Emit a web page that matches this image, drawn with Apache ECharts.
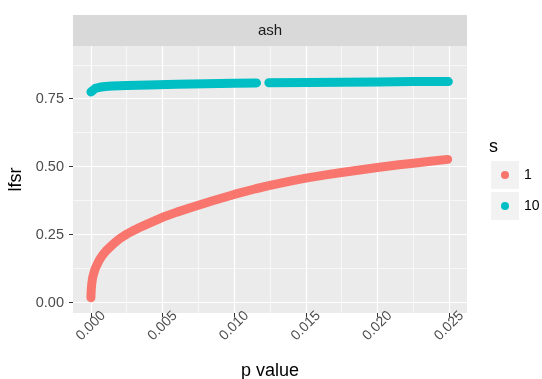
<!DOCTYPE html>
<html>
<head>
<meta charset="utf-8">
<script src="https://cdn.jsdelivr.net/npm/echarts@6/dist/echarts.min.js"></script>
<style>
  html, body { margin: 0; padding: 0; background: #fff; }
  #chart { width: 542px; height: 379px; }
</style>
</head>
<body>
<div id="chart"></div>
<script>
// s = 1
const pS1 = [0, 0.00002, 0.00006, 0.00012, 0.0002, 0.0003, 0.00045, 0.0006, 0.0008, 0.00105, 0.0013, 0.0016, 0.002, 0.0025, 0.003, 0.0035, 0.004, 0.005, 0.006, 0.007, 0.0085, 0.01, 0.0115, 0.0125, 0.014, 0.015, 0.0165, 0.0175, 0.019, 0.02, 0.0215, 0.0225, 0.0237, 0.0249];
const lfsrS1 = [0.018, 0.045, 0.07, 0.092, 0.108, 0.125, 0.142, 0.158, 0.174, 0.19, 0.203, 0.218, 0.235, 0.252, 0.266, 0.279, 0.291, 0.314, 0.333, 0.350, 0.375, 0.398, 0.419, 0.431, 0.448, 0.458, 0.471, 0.479, 0.490, 0.497, 0.507, 0.513, 0.520, 0.527];
// s = 10 (null = gap in the points)
const pS10 = [0, 0.0001, 0.0003, 0.0006, 0.001, 0.0015, 0.0025, 0.004, 0.006, 0.008, 0.01, 0.01156, null, 0.01242, 0.015, 0.0175, 0.02, 0.0225, 0.02495];
const lfsrS10 = [0.775, 0.782, 0.788, 0.792, 0.795, 0.797, 0.799, 0.801, 0.803, 0.805, 0.807, 0.808, null, 0.809, 0.810, 0.811, 0.812, 0.813, 0.813];

const xBreaks = [0, 0.005, 0.01, 0.015, 0.02, 0.025];
const xMinor = [0.0025, 0.0075, 0.0125, 0.0175, 0.0225];
const yBreaks = [0, 0.25, 0.5, 0.75];
const yMinor = [0.125, 0.375, 0.625, 0.875];

const FONT = 'Liberation Sans';
const zip = (xs, ys) => xs.map((x, i) => (x === null ? [null, null] : [x, ys[i]]));

var myChart = echarts.init(document.getElementById('chart'));

const hiddenAxisBits = {
    axisLine: {show: false},
    axisLabel: {show: false}
};

option = {
    animation: false,
    grid: {
        left: 73, right: 75, top: 46, bottom: 66,
        outerBoundsMode: 'none', containLabel: false,
        show: true, backgroundColor: '#EBEBEB', borderWidth: 0
    },
    xAxis: [{
        type: 'value',
        min: -0.00125, max: 0.02625,
        name: 'p value', nameLocation: 'middle', nameGap: 49,
        nameTextStyle: {fontFamily: FONT, fontSize: 18, color: '#000'},
        axisLine: {show: false, onZero: false},
        axisTick: {show: true, length: 4, customValues: xBreaks, lineStyle: {color: '#333', width: 1}},
        axisLabel: {
            customValues: xBreaks, rotate: 45, align: 'center', verticalAlign: 'middle', margin: 13,
            fontFamily: FONT, fontSize: 14, color: '#4D4D4D',
            formatter: v => v.toFixed(3)
        },
        splitLine: {show: true, lineStyle: {color: '#fff', width: 1.2}}
    }, Object.assign({
        type: 'value', position: 'top',
        min: -0.00125, max: 0.02625,
        splitLine: {show: true, lineStyle: {color: '#fff', width: 0.6}}
    }, hiddenAxisBits, {axisTick: {show: false, customValues: xMinor}})],
    yAxis: [{
        type: 'value',
        min: -0.038, max: 0.944,
        name: 'lfsr', nameLocation: 'middle', nameGap: 47, nameRotate: 90,
        nameTextStyle: {fontFamily: FONT, fontSize: 18, color: '#000'},
        axisLine: {show: false, onZero: false},
        axisTick: {show: true, length: 4, customValues: yBreaks, lineStyle: {color: '#333', width: 1}},
        axisLabel: {
            customValues: yBreaks, margin: 9,
            fontFamily: FONT, fontSize: 14.5, color: '#4D4D4D',
            formatter: v => v.toFixed(2)
        },
        splitLine: {show: true, lineStyle: {color: '#fff', width: 1.2}}
    }, Object.assign({
        type: 'value', position: 'right',
        min: -0.038, max: 0.944,
        splitLine: {show: true, lineStyle: {color: '#fff', width: 0.6}}
    }, hiddenAxisBits, {axisTick: {show: false, customValues: yMinor}})],
    legend: {
        data: ['1', '10'],
        orient: 'vertical',
        left: 501, top: 168, padding: 0,
        icon: 'circle',
        itemWidth: 8, itemHeight: 8, itemGap: 17,
        textStyle: {fontFamily: FONT, fontSize: 14, color: '#000', padding: [0, 0, 0, 10]}
    },
    graphic: [
        {type: 'rect', left: 73, top: 15, shape: {width: 394, height: 31}, style: {fill: '#D9D9D9'}, z: -1},
        {type: 'text', x: 270, y: 31, style: {text: 'ash', font: '15px ' + FONT, fill: '#1A1A1A', textAlign: 'center', textVerticalAlign: 'middle'}},
        {type: 'text', x: 489, y: 147, style: {text: 's', font: '18px ' + FONT, fill: '#000', textVerticalAlign: 'middle'}},
        {type: 'rect', left: 490, top: 160, shape: {width: 29, height: 29}, style: {fill: '#F2F2F2', stroke: '#fff', lineWidth: 1}, z: -1},
        {type: 'rect', left: 490, top: 191, shape: {width: 29, height: 29}, style: {fill: '#F2F2F2', stroke: '#fff', lineWidth: 1}, z: -1}
    ],
    series: [{
        name: '1', type: 'line',
        data: zip(pS1, lfsrS1),
        showSymbol: false, symbol: 'circle',
        itemStyle: {color: '#F8766D'},
        lineStyle: {color: '#F8766D', width: 9, cap: 'round', join: 'round'}
    }, {
        name: '10', type: 'line',
        data: zip(pS10, lfsrS10),
        showSymbol: false, symbol: 'circle',
        itemStyle: {color: '#00BFC4'},
        lineStyle: {color: '#00BFC4', width: 9, cap: 'round', join: 'round'}
    }]
};
myChart.setOption(option);
</script>
</body>
</html>
